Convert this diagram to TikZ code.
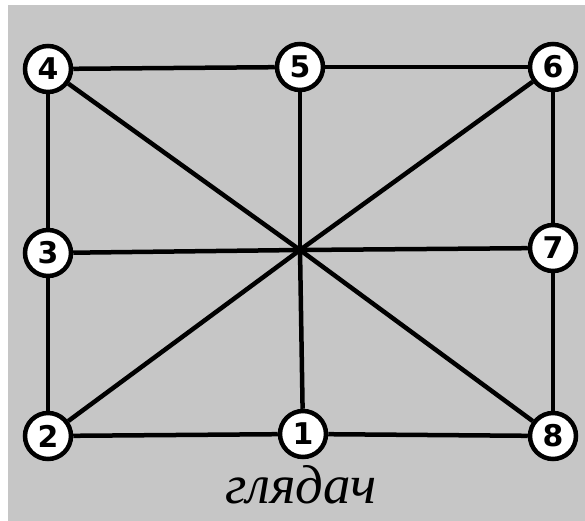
\documentclass[tikz,border=0pt]{standalone}
\usepackage{fontspec}
\setmainfont{Liberation Serif}
\newfontfamily\digitfont{DejaVu Sans}
\usetikzlibrary{positioning}

\begin{document}
\begin{tikzpicture}[x=1bp,y=-1bp,line width=4.5bp,
                    spot/.style={circle,draw,fill=white,inner sep=0pt,
                      minimum size=46bp,font=\digitfont\bfseries\fontsize{30}{30}\selectfont}]

  \fill[white] (0,0) rectangle (585,521);
  \fill[gray!45!white] (8,5) rectangle (585,521);
  \useasboundingbox (0,0) rectangle (585,521);

  \coordinate (c) at (300,250);

  \node[spot] (4) at (48,69) {4};
  \node[spot] (5) at (300,67) {5};
  \node[spot] (6) at (553,67) {6};
  \node[spot] (3) at (48,253) {3};
  \node[spot] (7) at (553,248) {7};
  \node[spot] (2) at (48,436) {2};
  \node[spot] (1) at (303,434) {1};
  \node[spot] (8) at (553,436) {8};

  \path
    (4) edge (5)
    (5) edge (6)
    (4) edge (3)
    (3) edge (2)
    (6) edge (7)
    (7) edge (8)
    (2) edge (1)
    (1) edge (8)
    (4) edge (c) (c) edge (8)
    (6) edge (c) (c) edge (2)
    (3) edge (c) (c) edge (7)
    (5) edge (c) (c) edge (1);

  \node[font=\itshape\fontsize{55}{55}\selectfont,anchor=base,inner sep=0pt]
    (word) at (301,503) {глядач};
\end{tikzpicture}
\end{document}
